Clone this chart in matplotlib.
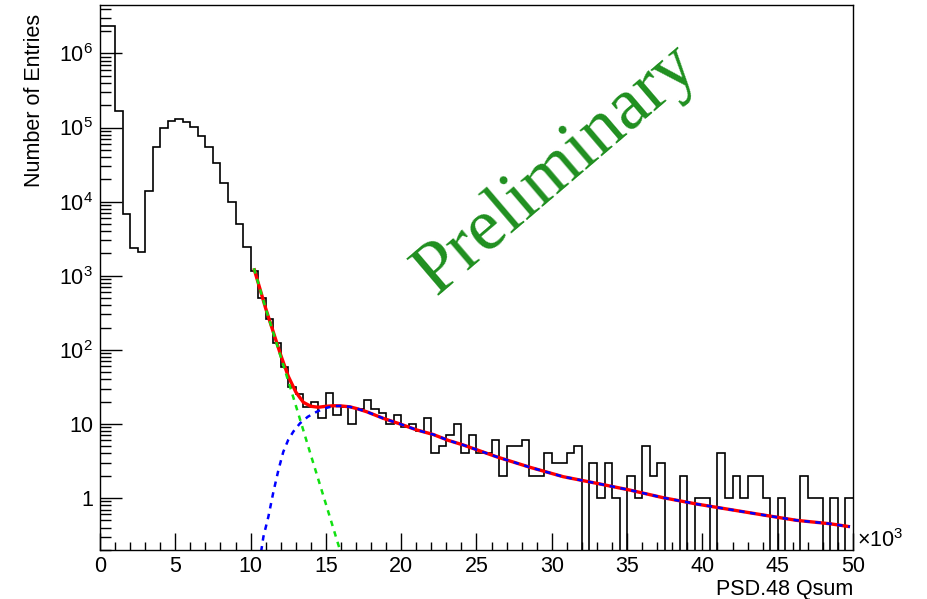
import matplotlib
matplotlib.use('Agg')
import matplotlib.pyplot as plt
import numpy as np
from matplotlib.ticker import MultipleLocator, LogLocator, FuncFormatter, NullFormatter

plt.rcParams['font.family'] = ['Liberation Sans', 'DejaVu Sans']
plt.rcParams['mathtext.fontset'] = 'custom'
plt.rcParams['mathtext.rm'] = 'Liberation Sans'
plt.rcParams['mathtext.it'] = 'Liberation Sans:italic'

# histogram: 100 bins of 0.5 (x10^3) from 0 to 50
bin_width = 0.5
counts = [2.34e6, 2.34e6, 1.67e5, 6.9e3, 2.4e3, 2.1e3, 1.4e4, 5.5e4, 1.0e5, 1.24e5,
          1.3e5, 1.17e5, 1.02e5, 7.7e4, 5.4e4, 3.3e4, 1.8e4, 9.8e3, 5.0e3, 2.45e3,
          1170, 496, 258, 122, 59, 32, 25, 17, 20, 12,
          26, 13, 17, 10, 16, 21, 16, 14, 10, 13,
          9, 10, 8, 12, 4, 5, 7, 10, 4, 7,
          4, 4, 6, 2, 5, 5, 6, 2, 2, 4,
          3, 3, 4, 5, 0, 3, 1, 3, 1, 0,
          2, 1, 5, 2, 3, 0, 0, 2, 0, 1,
          1, 0, 4, 1, 2, 1, 2, 2, 1, 0,
          1, 0, 0, 2, 1, 1, 0, 1, 0, 1]

# fit components
green_x = [10.22, 11.0, 12.0, 13.0, 14.0, 15.0, 16.0, 16.3]
green_y = [1260, 363, 81, 17.8, 3.8, 0.83, 0.18, 0.12]

blue_x = [10.7, 10.85, 11.18, 11.51, 11.85, 12.17, 12.5, 12.84, 13.28, 13.8, 14.39, 14.9,
          15.49, 16.0, 16.6, 17.1, 17.71, 18.81, 19.92, 21.03, 22.13, 23.13, 24.12, 26.34,
          28.55, 30.76, 32.98, 35.19, 37.4, 39.62, 41.83, 44.05, 46.26, 48.47, 49.8]
blue_y = [0.19, 0.30, 0.56, 1.2, 2.4, 4.2, 6.1, 7.9, 10.2, 12.5, 14.6, 16.2,
          17.4, 17.5, 17.0, 16.0, 14.6, 11.9, 10.0, 8.3, 7.2, 6.0, 5.2, 3.6,
          2.6, 1.94, 1.58, 1.28, 1.01, 0.83, 0.70, 0.59, 0.50, 0.45, 0.41]

red_x = [10.22, 11.0, 12.0, 12.5, 13.0, 13.5, 14.0, 14.5, 15.0, 15.5, 16.0, 16.6,
         17.1, 17.71, 18.81, 19.92, 21.03, 22.13, 23.13, 24.12, 26.34,
         28.55, 30.76, 32.98, 35.19, 37.4, 39.62, 41.83, 44.05, 46.26, 48.47, 49.8]
red_y = [1260, 363, 85, 44, 27, 19.6, 17.3, 16.8, 17.3, 17.6, 17.5, 17.0,
         16.0, 14.6, 11.9, 10.0, 8.3, 7.2, 6.0, 5.2, 3.6,
         2.6, 1.94, 1.58, 1.28, 1.01, 0.83, 0.70, 0.59, 0.50, 0.45, 0.41]

W, H = 928, 599
fig = plt.figure(figsize=(W / 100, H / 100), dpi=100)
ax = fig.add_axes([100 / W, (H - 550) / H, 753 / W, 545 / H])
ax.set_yscale('log', nonpositive='clip')

edges = np.arange(len(counts) + 1) * bin_width
ax.stairs(counts, edges, baseline=None, color='black', lw=1.2)

ax.plot(red_x, red_y, color='red', lw=2.4, solid_capstyle='butt')
ax.plot(blue_x, blue_y, color='blue', lw=1.8, dashes=(2.2, 2.2))
ax.plot(green_x, green_y, color='#11e011', lw=1.8, dashes=(2.2, 2.2))

ax.set_xlim(0, 50)
ax.set_ylim(0.199, 4.5e6)

ax.xaxis.set_major_locator(MultipleLocator(5))
ax.xaxis.set_minor_locator(MultipleLocator(1))
ax.yaxis.set_major_locator(LogLocator(base=10, numticks=20))
ax.yaxis.set_minor_locator(LogLocator(base=10, subs=np.arange(2, 10), numticks=20))
ax.yaxis.set_minor_formatter(NullFormatter())


def ylab(v, pos):
    n = int(round(np.log10(v)))
    if n == 0:
        return '1'
    if n == 1:
        return '10'
    return r'$\mathregular{10^{%d}}$' % n


ax.yaxis.set_major_formatter(FuncFormatter(ylab))
ax.xaxis.set_major_formatter(FuncFormatter(lambda v, p: '%d' % v))

ax.tick_params(which='both', direction='in', top=False, right=False, width=1.0, labelsize=15.5)
ax.tick_params(axis='y', which='major', length=16, pad=5)
ax.tick_params(axis='y', which='minor', length=8)
ax.tick_params(axis='x', which='major', length=12, pad=4)
ax.tick_params(axis='x', which='minor', length=6)
for s in ax.spines.values():
    s.set_linewidth(1.0)

# no matplotlib axis labels; titles drawn ROOT style below
ax.xaxis.label.set_visible(False)
ax.yaxis.label.set_visible(False)
ax.xaxis.get_offset_text().set_visible(False)
ax.yaxis.get_offset_text().set_visible(False)

fig.text(853 / W, 1 - 589 / H, 'PSD.48 Qsum', fontsize=15.5, ha='right', va='center')
fig.text(35 / W, 1 - 14 / H, 'Number of Entries', fontsize=15.5, rotation=90,
         ha='center', va='top')

fig.text(857 / W, 1 - 541 / H, r'$\mathregular{\times10^{3}}$', fontsize=15.5,
         ha='left', va='center')

fig.text(557 / W, 1 - 170 / H, 'Preliminary', family=['Liberation Serif', 'DejaVu Serif'],
         fontsize=53, color='#1f8f1f', rotation=40.5, ha='center', va='center',
         rotation_mode='anchor')

fig.savefig('out.png', dpi=100)
